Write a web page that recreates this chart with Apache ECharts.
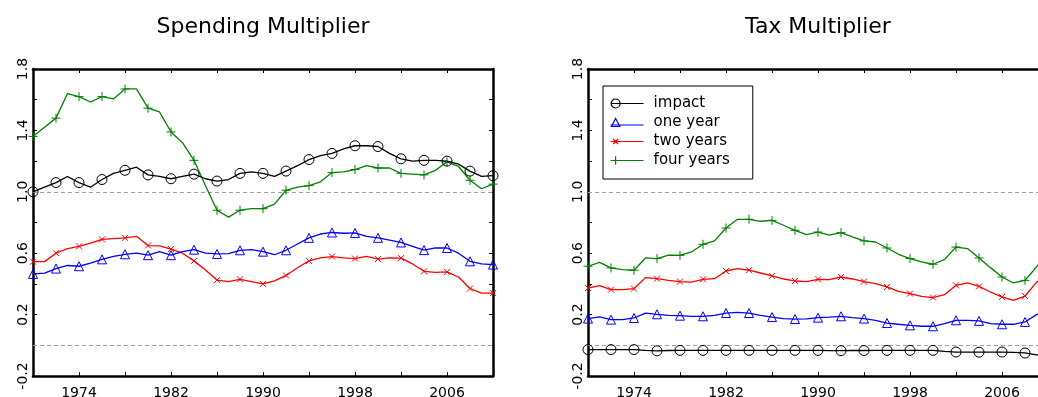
<!DOCTYPE html>
<html>
<head>
<meta charset="utf-8">
<script src="https://cdn.jsdelivr.net/npm/echarts@6/dist/echarts.min.js"></script>
<style>
html,body{margin:0;padding:0;background:#fff;}
#chart{width:1038px;height:397px;}
</style>
</head>
<body>
<div id="chart"></div>
<script>
var years = [1970,1971,1972,1973,1974,1975,1976,1977,1978,1979,1980,1981,1982,1983,1984,1985,1986,1987,1988,1989,1990,1991,1992,1993,1994,1995,1996,1997,1998,1999,2000,2001,2002,2003,2004,2005,2006,2007,2008,2009,2010];

var spendImpact = [1.00,1.03,1.06,1.10,1.06,1.03,1.08,1.12,1.14,1.16,1.11,1.10,1.085,1.10,1.115,1.085,1.07,1.08,1.12,1.13,1.12,1.10,1.135,1.17,1.21,1.235,1.25,1.28,1.30,1.30,1.295,1.25,1.215,1.20,1.205,1.205,1.20,1.18,1.135,1.10,1.105];
var spendOne = [0.465,0.47,0.50,0.52,0.515,0.535,0.56,0.58,0.593,0.60,0.587,0.61,0.587,0.61,0.623,0.60,0.595,0.597,0.619,0.623,0.61,0.59,0.619,0.66,0.70,0.725,0.735,0.73,0.732,0.71,0.70,0.685,0.67,0.645,0.62,0.635,0.634,0.60,0.547,0.53,0.526];
var spendTwo = [0.545,0.545,0.60,0.63,0.645,0.665,0.69,0.695,0.70,0.71,0.65,0.648,0.627,0.60,0.55,0.49,0.425,0.415,0.43,0.415,0.40,0.42,0.455,0.505,0.55,0.57,0.578,0.57,0.565,0.58,0.562,0.57,0.568,0.53,0.482,0.475,0.478,0.445,0.37,0.34,0.34];
var spendFour = [1.36,1.42,1.48,1.64,1.62,1.585,1.62,1.605,1.67,1.67,1.545,1.52,1.39,1.32,1.205,1.04,0.88,0.835,0.88,0.89,0.89,0.92,1.01,1.03,1.04,1.065,1.125,1.13,1.145,1.17,1.155,1.155,1.12,1.115,1.11,1.14,1.195,1.165,1.075,1.02,1.05];

var taxImpact = [-0.028,-0.028,-0.028,-0.028,-0.028,-0.033,-0.036,-0.034,-0.033,-0.033,-0.033,-0.033,-0.033,-0.033,-0.033,-0.033,-0.033,-0.033,-0.033,-0.033,-0.033,-0.035,-0.035,-0.034,-0.034,-0.033,-0.033,-0.033,-0.033,-0.033,-0.033,-0.040,-0.044,-0.045,-0.045,-0.044,-0.044,-0.046,-0.050,-0.062,-0.068];
var taxOne = [0.174,0.185,0.167,0.167,0.178,0.21,0.202,0.195,0.193,0.189,0.189,0.195,0.21,0.215,0.21,0.195,0.184,0.174,0.171,0.172,0.18,0.184,0.189,0.18,0.174,0.163,0.145,0.137,0.13,0.124,0.124,0.141,0.163,0.163,0.159,0.141,0.137,0.137,0.152,0.20,0.23];
var taxTwo = [0.373,0.389,0.363,0.363,0.369,0.441,0.434,0.423,0.415,0.412,0.43,0.434,0.484,0.50,0.489,0.471,0.452,0.432,0.419,0.415,0.43,0.428,0.445,0.432,0.415,0.402,0.38,0.352,0.337,0.319,0.311,0.33,0.391,0.406,0.384,0.347,0.315,0.293,0.321,0.41,0.48];
var taxFour = [0.515,0.54,0.504,0.493,0.489,0.569,0.565,0.588,0.586,0.608,0.658,0.68,0.764,0.821,0.821,0.808,0.814,0.782,0.749,0.721,0.738,0.717,0.734,0.706,0.68,0.673,0.634,0.593,0.565,0.543,0.528,0.558,0.64,0.63,0.569,0.506,0.445,0.406,0.423,0.51,0.62];

var xTickLabels = [1974,1982,1990,1998,2006];
var yTickLabels = [-0.2,0.2,0.6,1.0,1.4,1.8];
var panelTitles = ['Spending Multiplier','Tax Multiplier'];
var seriesNames = ['impact','one year','two years','four years'];
var refLines = [0,1];

var FONT = 'DejaVu Sans';
var colors = ['#000000','#0000ff','#ff0000','#008000'];
var symbols = ['circle','triangle','path://M0,0L10,10M0,10L10,0','path://M5,0L5,10M0,5L10,5'];
var symSizes = [10,9,6,9];
var legendIcons = [
  'path://M0,5L33,5M9.5,5A4.5,4.5,0,1,1,0.5,5A4.5,4.5,0,1,1,9.5,5',
  'path://M0,7.5L33,7.5M5,1L9.2,9L0.8,9Z',
  'path://M0,5L33,5M2.5,2.5L7.5,7.5M2.5,7.5L7.5,2.5',
  'path://M0,5L33,5M5,0.8L5,9.2M1,5L9,5'
];

function pairs(arr){ return years.map(function(y,i){ return [y, arr[i]]; }); }

var grids = [
  {left:33, top:69, width:460, height:307, outerBoundsMode:'none', containLabel:false},
  {left:588, top:69, width:460, height:307, outerBoundsMode:'none', containLabel:false}
];

var xAxes = [], yAxes = [];
grids.forEach(function(g, gi){
  ['bottom','top'].forEach(function(pos){
    xAxes.push({
      type:'value', gridIndex:gi, position:pos, min:1970, max:2010, interval:4,
      axisLine:{show:true, onZero:false, lineStyle:{color:'#000', width:2.5}},
      axisTick:{show:true, inside:true, length:4, lineStyle:{color:'#000', width:1}},
      splitLine:{show:false},
      axisLabel:{show:pos==='bottom', margin:10, color:'#000', fontFamily:FONT, fontSize:14,
        formatter:function(v){ return xTickLabels.indexOf(Math.round(v))>=0 ? String(Math.round(v)) : ''; }}
    });
  });
  ['left','right'].forEach(function(pos){
    yAxes.push({
      type:'value', gridIndex:gi, position:pos, min:-0.2, max:1.8, interval:0.2,
      axisLine:{show:true, onZero:false, lineStyle:{color:'#000', width:2.5}},
      axisTick:{show:true, inside:true, length:4, lineStyle:{color:'#000', width:1}},
      splitLine:{show:false},
      axisLabel:{show:pos==='left', rotate:90, margin:3, color:'#000', fontFamily:FONT, fontSize:14,
        formatter:function(v){
          var r = Math.round(v*10)/10;
          for (var k=0;k<yTickLabels.length;k++){ if (Math.abs(yTickLabels[k]-r)<1e-6) return r.toFixed(1); }
          return '';
        }}
    });
  });
});

var panelData = [[spendImpact,spendOne,spendTwo,spendFour],[taxImpact,taxOne,taxTwo,taxFour]];
var series = [];
panelData.forEach(function(pd, gi){
  pd.forEach(function(arr, si){
    var s = {
      type:'line', name:seriesNames[si], xAxisIndex:gi*2, yAxisIndex:gi*2,
      data:pairs(arr), symbol:symbols[si], showAllSymbol:true,
      symbolSize:(function(sz){ return function(v, p){ return p.dataIndex%2===0 ? sz : 0; }; })(symSizes[si]),
      lineStyle:{color:colors[si], width:1.3},
      itemStyle:{color:'rgba(0,0,0,0)', borderColor:colors[si], borderWidth:1},
      emphasis:{disabled:true}, animation:false, z:10-si
    };
    if (si===0){
      s.markLine = {
        silent:true, symbol:['none','none'], animation:false,
        label:{show:false},
        lineStyle:{type:[4,3], color:'#a0a0a0', width:1},
        emphasis:{disabled:true},
        data:refLines.map(function(v){ return {yAxis:v}; })
      };
    }
    series.push(s);
  });
});

var chart = echarts.init(document.getElementById('chart'), null, {renderer:'canvas'});
chart.setOption({
  backgroundColor:'#ffffff',
  animation:false,
  grid:grids,
  xAxis:xAxes,
  yAxis:yAxes,
  legend:{
    data:seriesNames.map(function(n, i){ return {name:n, icon:legendIcons[i]}; }),
    orient:'vertical', left:603, top:86,
    padding:[10,23,11,7], itemWidth:33, itemHeight:10, itemGap:4,
    borderColor:'#000', borderWidth:1, backgroundColor:'#fff',
    selectedMode:false,
    itemStyle:{borderWidth:1.2},
    textStyle:{fontFamily:FONT, fontSize:15, color:'#000', padding:[0,0,0,5]}
  },
  graphic:panelTitles.map(function(t, i){
    return {type:'text', x:grids[i].left+grids[i].width/2, y:27,
      style:{text:t, fontFamily:FONT, fontSize:22, fill:'#000', align:'center', verticalAlign:'middle'}};
  }),
  series:series
});
</script>
</body>
</html>
